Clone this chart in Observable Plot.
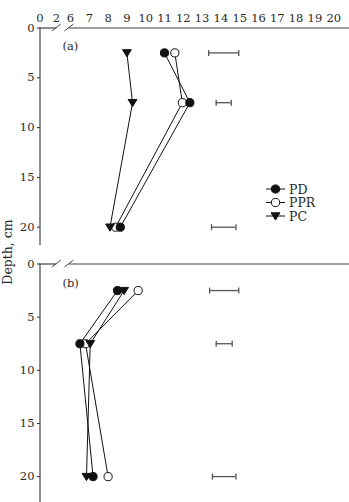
<!DOCTYPE html>
<html><head><meta charset="utf-8">
<script src="https://cdn.jsdelivr.net/npm/d3@7"></script>
<script src="https://cdn.jsdelivr.net/npm/@observablehq/plot@0.6"></script>
<style>
html,body{margin:0;padding:0;background:#fff;}
#chart{position:relative;width:349px;height:502px;font-family:"DejaVu Serif",serif;overflow:hidden;}
#chart > *{position:absolute;left:0;}
</style></head><body><div id="chart"></div>
<script>
// ---- data ----
const depths = [2.5, 7.5, 20];
const seriesNames = ["PD", "PPR", "PC"];
const panelLabels = ["(a)", "(b)"];

const a_PD  = [11.0, 12.35, 8.65];
const a_PPR = [11.55, 11.95, 8.4];
const a_PC  = [9.0, 9.3, 8.1];
const a_errLo = [13.35, 13.75, 13.5];
const a_errHi = [14.95, 14.55, 14.8];

const b_PD  = [8.5, 6.5, 7.2];
const b_PPR = [9.6, 6.8, 8.0];
const b_PC  = [8.85, 7.05, 6.85];
const b_errLo = [13.4, 13.75, 13.55];
const b_errHi = [14.95, 14.6, 14.8];

const xTicks = [0, 2, 6, 7, 8, 9, 10, 11, 12, 13, 14, 15, 16, 17, 18, 19, 20];
const yTicks = [0, 5, 10, 15, 20];
const axisBreak = [2.1, 5.7];
const yLabel = "Depth, cm";

// ---- layout ----
const W = 349;
const xDomain = [0, 2, 6, 20.84];
const xRange = [39.5, 56, 70, 349];
const xScale = d3.scaleLinear(xDomain, xRange);

const ink = "#111";
const axisInk = "#444";
const textInk = "#2a2a2a";

const triDown = {draw(ctx, size) {
  const r = Math.sqrt(size / Math.PI);
  ctx.moveTo(-r * 1.1, -r * 0.8); ctx.lineTo(r * 1.1, -r * 0.8); ctx.lineTo(0, r * 1.0); ctx.closePath();
}};
const vbar = {draw(ctx, size) {
  const r = Math.sqrt(size / Math.PI);
  ctx.moveTo(0, -r); ctx.lineTo(0, r);
}};

const symbolStyle = {
  PD:  {symbol: d3.symbolCircle, fill: ink, stroke: ink, r: 4.1},
  PPR: {symbol: d3.symbolCircle, fill: "white", stroke: ink, r: 4.1},
  PC:  {symbol: triDown, fill: ink, stroke: ink, r: 4.0}
};

function rowsFor(vals) {
  const rows = [];
  seriesNames.forEach((s, si) => depths.forEach((d, i) => rows.push({series: s, depth: d, value: vals[si][i]})));
  return rows;
}

function makePanel({vals, errLo, errHi, label, topLabels, height, marginTop, yPx0, pxPerUnit, labelDy}) {
  const rows = rowsFor(vals);
  const err = depths.map((d, i) => ({depth: d, lo: errLo[i], hi: errHi[i]}));
  const caps = err.flatMap(e => [{depth: e.depth, x: e.lo}, {depth: e.depth, x: e.hi}]);
  const yMax = (height - yPx0) / pxPerUnit;
  const breakMark = () => {
    const g = d3.create("svg:g").attr("stroke", axisInk).attr("stroke-width", 1);
    for (const b of axisBreak) {
      const cx = xScale(b);
      g.append("line").attr("x1", cx - 4.5).attr("y1", yPx0 + 3.5).attr("x2", cx + 4.5).attr("y2", yPx0 - 3.5);
    }
    return g.node();
  };
  const marks = [
    Plot.ruleX([0], {stroke: axisInk, strokeWidth: 1.2}),
    Plot.ruleY([0], {x1: 0, x2: axisBreak[0], stroke: axisInk, strokeWidth: 1.2}),
    Plot.ruleY([0], {x1: axisBreak[1], x2: xDomain[xDomain.length - 1], stroke: axisInk, strokeWidth: 1.2}),
    breakMark,
    Plot.ruleY(err, {x1: "lo", x2: "hi", y: "depth", stroke: "#555", strokeWidth: 1.3}),
    Plot.dot(caps, {x: "x", y: "depth", symbol: vbar, r: 3, fill: "none", stroke: "#555", strokeWidth: 1.3}),
    Plot.line(rows, {x: "value", y: "depth", z: "series", stroke: ink, strokeWidth: 1}),
    ...["PPR", "PD", "PC"].map(s => Plot.dot(rows.filter(r => r.series === s), {
      x: "value", y: "depth", symbol: symbolStyle[s].symbol, r: symbolStyle[s].r,
      fill: symbolStyle[s].fill, stroke: symbolStyle[s].stroke, strokeWidth: 1
    })),
    Plot.text([label], {frameAnchor: "top-left", textAnchor: "start", lineAnchor: "middle", dx: 22, dy: labelDy, fontSize: 11.5, fill: textInk})
  ];
  return Plot.plot({
    width: W, height,
    marginLeft: 40, marginRight: 0, marginTop, marginBottom: 0,
    style: {fontFamily: "DejaVu Serif, serif", fontSize: "11.5px", color: textInk, background: "transparent", overflow: "visible"},
    x: {type: "linear", domain: xDomain, range: xRange,
        axis: topLabels ? "top" : null, ticks: xTicks, tickSize: 0, tickPadding: 6, label: null, tickFormat: d => String(d)},
    y: {domain: [0, yMax], range: [yPx0, height], ticks: yTicks, tickSize: 3, tickPadding: 3, label: null, tickFormat: d => String(d)},
    marks
  });
}

const chartEl = document.getElementById("chart");
const panelTop = makePanel({vals: [a_PD, a_PPR, a_PC], errLo: a_errLo, errHi: a_errHi, label: panelLabels[0],
  topLabels: true, height: 245, marginTop: 27.5, yPx0: 27.5, pxPerUnit: 9.96, labelDy: 18});
panelTop.style.top = "0px";
chartEl.appendChild(panelTop);

const panelBottom = makePanel({vals: [b_PD, b_PPR, b_PC], errLo: b_errLo, errHi: b_errHi, label: panelLabels[1],
  topLabels: false, height: 250, marginTop: 11.5, yPx0: 11.5, pxPerUnit: 10.63, labelDy: 19.5});
panelBottom.style.top = "252px";
chartEl.appendChild(panelBottom);

// overlay: y-axis title and legend
const ov = d3.create("svg").attr("width", W).attr("height", 502)
  .style("position", "absolute").style("top", "0px").style("left", "0px").style("pointer-events", "none")
  .style("font-family", "DejaVu Serif, serif");
ov.append("text").attr("transform", "translate(8,252) rotate(-90)")
  .attr("text-anchor", "middle").attr("dominant-baseline", "middle")
  .attr("font-size", 12.5).attr("fill", textInk).text(yLabel);
const lg = ov.append("g");
seriesNames.forEach((s, i) => {
  const y = 189 + i * 13.5;
  const st = symbolStyle[s];
  lg.append("line").attr("x1", 266).attr("x2", 285).attr("y1", y).attr("y2", y).attr("stroke", ink).attr("stroke-width", 1);
  lg.append("path").attr("transform", `translate(275.5,${y})`)
    .attr("d", d3.symbol(st.symbol, st.r * st.r * Math.PI)())
    .attr("fill", st.fill).attr("stroke", st.stroke).attr("stroke-width", 1);
  lg.append("text").attr("x", 289).attr("y", y).attr("dominant-baseline", "central")
    .attr("font-size", 12.5).attr("fill", textInk).text(s);
});
chartEl.appendChild(ov.node());
</script></body></html>
